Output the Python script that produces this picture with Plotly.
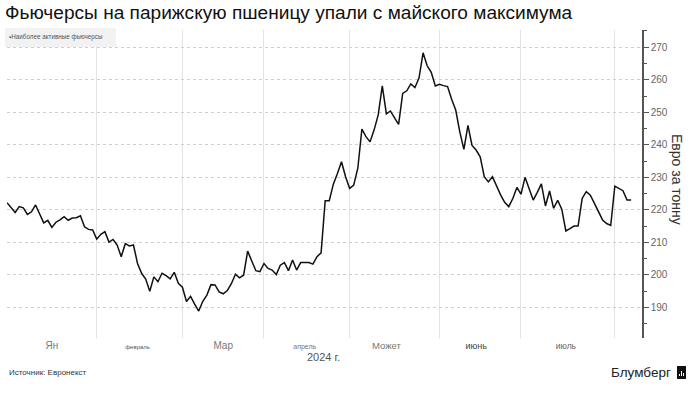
import plotly.graph_objects as go

# ---------------- data ----------------
DATES = [
    "2024-01-02", "2024-01-04", "2024-01-05", "2024-01-08", "2024-01-09", "2024-01-10",
    "2024-01-11", "2024-01-12", "2024-01-15", "2024-01-16", "2024-01-17", "2024-01-18",
    "2024-01-19", "2024-01-22", "2024-01-23", "2024-01-24", "2024-01-25", "2024-01-26",
    "2024-01-29", "2024-01-30", "2024-01-31",
    "2024-02-01", "2024-02-02", "2024-02-05", "2024-02-06", "2024-02-07", "2024-02-08",
    "2024-02-09", "2024-02-12", "2024-02-13", "2024-02-14", "2024-02-15", "2024-02-16",
    "2024-02-19", "2024-02-20", "2024-02-21", "2024-02-22", "2024-02-23", "2024-02-26",
    "2024-02-27", "2024-02-28", "2024-02-29",
    "2024-03-01", "2024-03-04", "2024-03-05", "2024-03-06", "2024-03-07", "2024-03-08",
    "2024-03-11", "2024-03-12", "2024-03-13", "2024-03-14", "2024-03-15", "2024-03-18",
    "2024-03-19", "2024-03-20", "2024-03-21", "2024-03-22", "2024-03-25", "2024-03-26",
    "2024-03-27", "2024-03-28",
    "2024-04-02", "2024-04-03", "2024-04-04", "2024-04-05", "2024-04-08", "2024-04-09",
    "2024-04-10", "2024-04-11", "2024-04-12", "2024-04-15", "2024-04-16", "2024-04-17",
    "2024-04-18", "2024-04-19", "2024-04-22", "2024-04-23", "2024-04-24", "2024-04-25",
    "2024-04-26", "2024-04-29", "2024-04-30",
    "2024-05-02", "2024-05-03", "2024-05-06", "2024-05-07", "2024-05-08", "2024-05-09",
    "2024-05-10", "2024-05-13", "2024-05-14", "2024-05-15", "2024-05-16", "2024-05-17",
    "2024-05-20", "2024-05-21", "2024-05-22", "2024-05-23", "2024-05-24", "2024-05-27",
    "2024-05-28", "2024-05-29", "2024-05-30", "2024-05-31",
    "2024-06-03", "2024-06-04", "2024-06-05", "2024-06-06", "2024-06-07", "2024-06-10",
    "2024-06-11", "2024-06-12", "2024-06-13", "2024-06-14", "2024-06-17", "2024-06-18",
    "2024-06-19", "2024-06-20", "2024-06-21", "2024-06-24", "2024-06-25", "2024-06-26",
    "2024-06-27", "2024-06-28",
    "2024-07-01", "2024-07-02", "2024-07-03", "2024-07-04", "2024-07-05", "2024-07-08",
    "2024-07-09", "2024-07-10", "2024-07-11", "2024-07-12", "2024-07-15", "2024-07-16",
    "2024-07-17", "2024-07-18", "2024-07-19", "2024-07-22", "2024-07-23", "2024-07-24",
    "2024-07-25", "2024-07-26", "2024-07-29", "2024-07-30", "2024-07-31",
    "2024-08-01", "2024-08-02", "2024-08-05", "2024-08-06", "2024-08-07",
]

PRICES = [
    222.2, 219.2, 221.0, 220.6, 218.6, 219.4,
    221.5, 218.6, 216.0, 216.8, 214.6, 216.2,
    216.9, 217.9, 216.8, 217.5, 217.6, 218.2,
    214.8, 214.0, 213.8,
    211.0, 212.5, 213.3, 210.1, 210.9, 209.2,
    205.6, 209.6, 208.9, 209.2, 203.5, 200.5,
    198.7, 195.0, 199.4, 197.9, 200.5, 199.8,
    198.8, 200.8, 197.4,
    196.2, 191.8, 193.4, 191.0, 188.9, 191.9,
    193.8, 197.0, 196.9, 194.8, 194.2, 195.2,
    197.3, 200.2, 199.1, 199.9, 207.3, 204.3,
    201.3, 201.0,
    203.5, 202.0, 201.5, 200.1, 203.0, 203.8,
    201.3, 204.6, 201.5, 203.8, 203.8, 203.8,
    203.3, 205.6, 206.8, 222.8, 222.8, 227.9,
    231.2, 234.8, 230.2,
    226.6, 227.6, 232.8, 244.8, 242.5, 240.9,
    244.6, 249.2, 258.1, 249.5, 250.4, 248.3,
    246.3, 255.8, 256.6, 258.7, 257.6, 260.5,
    268.3, 264.3, 262.3, 258.1,
    258.6, 258.2, 257.9, 254.0, 250.7, 244.0,
    238.6, 246.0, 239.8, 238.4, 236.3, 230.2,
    228.6, 230.2, 227.1, 224.6, 222.3, 221.0,
    223.5, 226.9,
    224.8, 230.0, 226.5, 223.0, 225.4, 228.0,
    221.2, 225.8, 220.5, 222.9, 220.2, 213.5,
    214.2, 215.0, 215.0, 223.5, 225.6, 224.5,
    222.0, 219.4, 216.9, 215.8, 215.2,
    227.3, 226.7, 225.9, 223.0, 223.0,
]

HOLIDAYS = ["2024-01-01", "2024-03-29", "2024-04-01", "2024-05-01"]
MONTH_STARTS = ["2024-01-02", "2024-02-01", "2024-03-01", "2024-04-02", "2024-05-02",
                "2024-06-03", "2024-07-01", "2024-08-01"]
MONTH_MIDS = ["2024-01-17", "2024-02-15", "2024-03-15", "2024-04-16", "2024-05-15",
              "2024-06-14", "2024-07-16"]
MONTH_LABELS = ["Ян", "февраль", "Мар", "апрель", "Может", "июнь", "июль"]
Y_TICKS = [190, 200, 210, 220, 230, 240, 250, 260, 270]
Y_TICK_LABELS = ["190", "200", "210", "220", "230", "240", "250", "260", "270"]

TITLE = "Фьючерсы на парижскую пшеницу упали с майского максимума"
LEGEND_TEXT = "▪Наиболее активные фьючерсы"
Y_TITLE = "Евро за тонну"
YEAR_TEXT = "2024 г."
SOURCE = "Источник: Евронекст"
BRAND = "Блумберг"

# ---------------- styling ----------------
W, H = 693, 408
ML, MR, MT, MB = 7, 51, 30, 70
PW, PH = W - ML - MR, H - MT - MB


def px(x):
    return (x - ML) / PW


def py(y):
    return (H - MB - y) / PH


label_sizes = [10, 6, 10, 7, 9.5, 9, 8.5]
label_colors = ["#777", "#555", "#777", "#777", "#777", "#444", "#666"]
tick_text = [
    f'<span style="font-size:{s}px;color:{c}">{t}</span>'
    for t, s, c in zip(MONTH_LABELS, label_sizes, label_colors)
]

fig = go.Figure()
fig.add_trace(go.Scatter(
    x=DATES, y=PRICES, mode="lines",
    line=dict(color="#111111", width=1.5),
    hoverinfo="x+y", showlegend=False,
))

font_family = "Liberation Sans, Arial, sans-serif"

fig.update_layout(
    template="none",
    width=W, height=H,
    margin=dict(l=ML, r=MR, t=MT, b=MB, autoexpand=False),
    paper_bgcolor="white", plot_bgcolor="white",
    font=dict(family=font_family, color="#333"),
    title=dict(text=TITLE, x=5 / W, xanchor="left", xref="container",
               y=1 - 12 / H, yanchor="middle", yref="container",
               font=dict(size=19.1, color="#111", family=font_family)),
    showlegend=False,
    xaxis=dict(
        type="date", automargin=False,
        range=["2024-01-02", "2024-08-09 16:00"],
        rangebreaks=[dict(bounds=["sat", "mon"]), dict(values=HOLIDAYS)],
        tickmode="array", tickvals=MONTH_MIDS, ticktext=tick_text,
        showgrid=False, ticks="", showline=False, zeroline=False,
        tickfont=dict(size=10, color="#777"),
        minor=dict(tickmode="array", tickvals=MONTH_STARTS, showgrid=True,
                   gridcolor="#e3e3e3", gridwidth=1, ticks=""),
    ),
    yaxis=dict(
        side="right", automargin=False,
        range=[180.6, 275.3],
        tickmode="array", tickvals=Y_TICKS, ticktext=Y_TICK_LABELS,
        showline=True, linecolor="#555", linewidth=1.5,
        ticks="outside", ticklen=5, tickcolor="#555", tickwidth=1,
        tickfont=dict(size=10, color="#666"),
        showgrid=True, gridcolor="#cfcfcf", griddash="dot", gridwidth=1,
        zeroline=False,
        minor=dict(dtick=5, ticks="outside", ticklen=3, tickcolor="#555", showgrid=False),
    ),
)

# legend box
fig.add_shape(type="rect", xref="paper", yref="paper",
              x0=px(5), x1=px(116), y0=py(47), y1=py(28),
              fillcolor="#f2f2f2", line=dict(width=0), layer="above")
fig.add_annotation(text=LEGEND_TEXT, xref="paper", yref="paper",
                   x=px(7), y=py(37), xanchor="left", yanchor="middle",
                   showarrow=False, font=dict(size=6.3, color="#555"))

# y title
fig.add_annotation(text=Y_TITLE, xref="paper", yref="paper",
                   x=px(677), y=py(180), xanchor="center", yanchor="middle",
                   textangle=90, showarrow=False, font=dict(size=14, color="#333"))

# year
fig.add_annotation(text=YEAR_TEXT, xref="paper", yref="paper",
                   x=px(323), y=py(357), xanchor="center", yanchor="middle",
                   showarrow=False, font=dict(size=11, color="#555"))

# source
fig.add_annotation(text=SOURCE, xref="paper", yref="paper",
                   x=px(7), y=py(372), xanchor="left", yanchor="middle",
                   showarrow=False, font=dict(size=8, color="#333"))

# brand
fig.add_annotation(text=BRAND, xref="paper", yref="paper",
                   x=px(673), y=py(372), xanchor="right", yanchor="middle",
                   showarrow=False, font=dict(size=13.5, color="#222"))
fig.add_shape(type="rect", xref="paper", yref="paper",
              x0=px(677), x1=px(686), y0=py(379), y1=py(366),
              fillcolor="#111", line=dict(width=0), layer="above")
for bx, top in [(679.5, 374), (681.5, 371), (683.5, 373)]:
    fig.add_shape(type="line", xref="paper", yref="paper",
                  x0=px(bx), x1=px(bx), y0=py(376), y1=py(top),
                  line=dict(color="white", width=1), layer="above")

fig.write_html("out.html", config={"displayModeBar": False},
               post_script="document.body.style.margin='0';")
